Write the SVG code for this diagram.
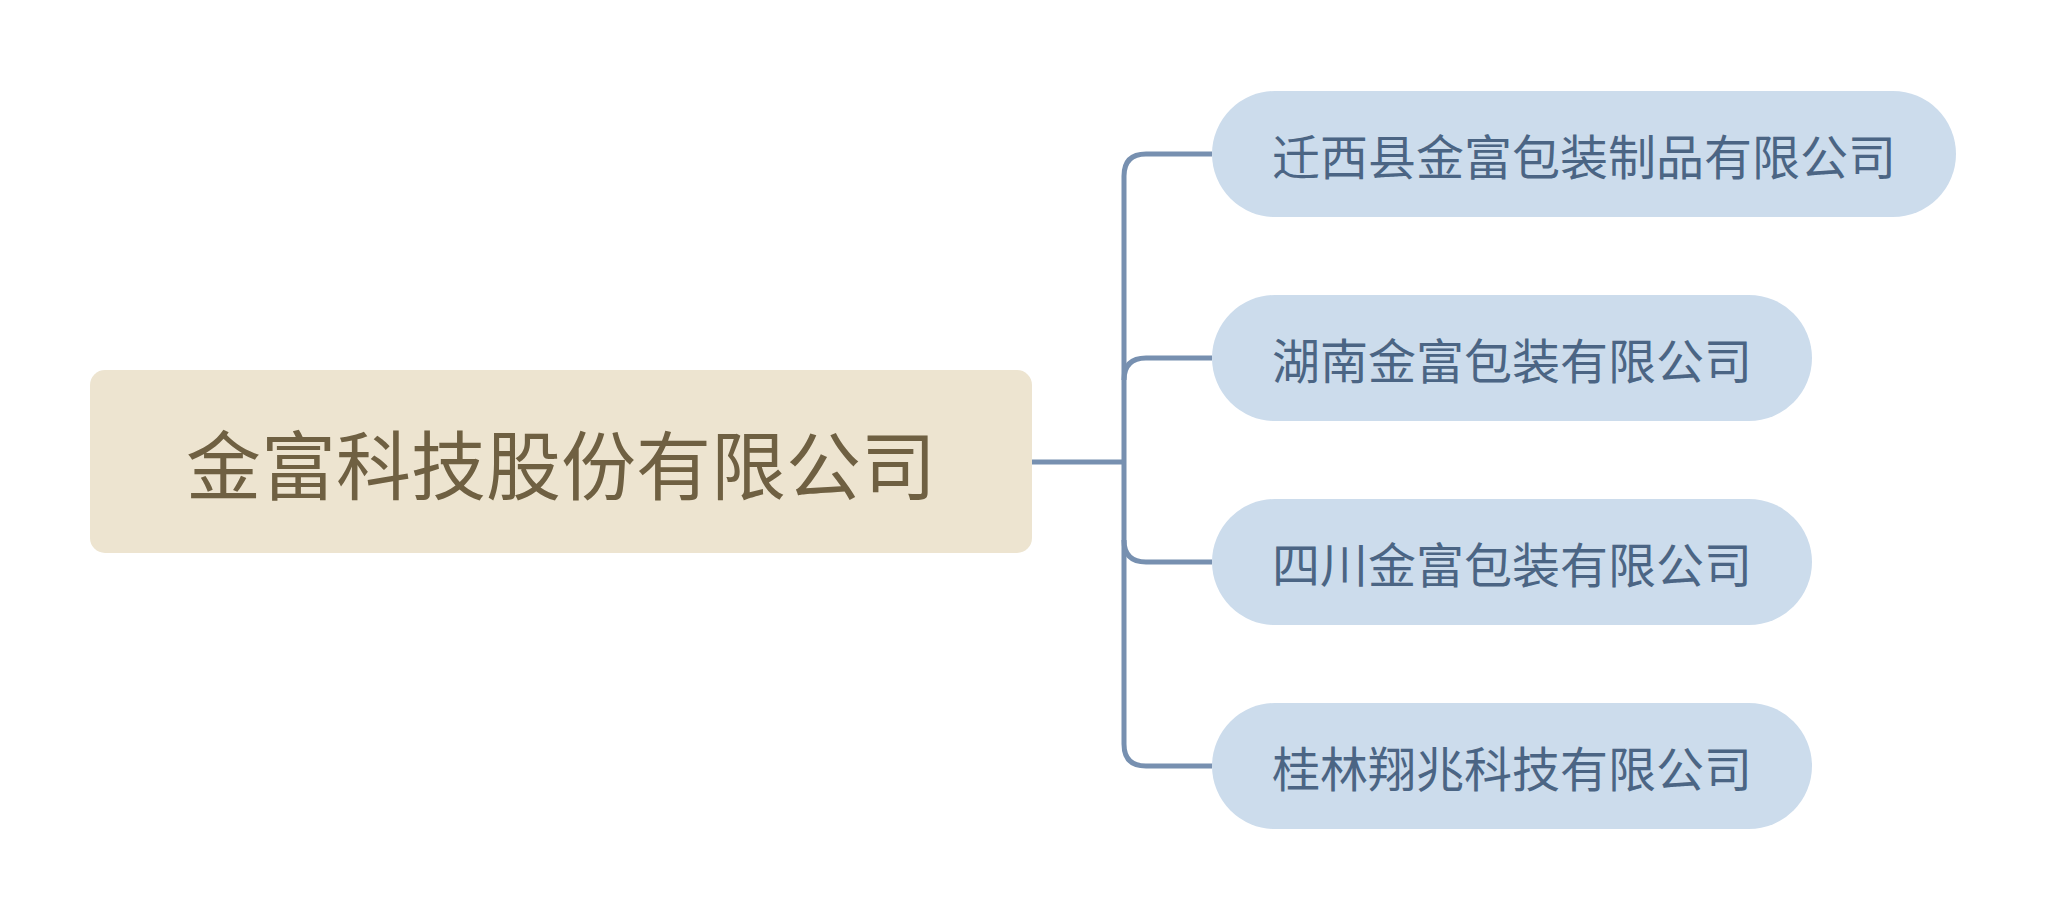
<svg xmlns="http://www.w3.org/2000/svg" width="2046" height="918" viewBox="0 0 2046 918">
<style>
.conn{fill:none;stroke:#7790b0;stroke-width:5}
.child{fill:#ccdcec}
.ctext{font-family:"Liberation Sans","Noto Sans CJK SC",sans-serif;font-size:48px;fill:#4b6584}
.rtext{font-family:"Liberation Sans","Noto Sans CJK SC",sans-serif;font-size:75px;fill:#6f6042}
</style>
<rect width="2046" height="918" fill="#ffffff"/>
<g id="connectors">
<path class="conn" d="M1032 462 H1124"/>
<path class="conn" d="M1212 154 H1146 Q1124 154 1124 176 V744 Q1124 766 1146 766 H1212"/>
<path class="conn" d="M1212 358 H1146 Q1124 358 1124 380"/>
<path class="conn" d="M1124 540 Q1124 562 1146 562 H1212"/>
</g>
<g id="root">
<rect x="90" y="370" width="942" height="183" rx="15" fill="#ede4d0"/>
<text class="rtext" x="561" y="468" text-anchor="middle" dominant-baseline="central">金富科技股份有限公司</text>
</g>
<g id="n1">
<rect class="child" x="1212" y="91" width="744" height="126" rx="63"/>
<text class="ctext" x="1272" y="158" dominant-baseline="central">迁西县金富包装制品有限公司</text>
</g>
<g id="n2">
<rect class="child" x="1212" y="295" width="600" height="126" rx="63"/>
<text class="ctext" x="1272" y="362" dominant-baseline="central">湖南金富包装有限公司</text>
</g>
<g id="n3">
<rect class="child" x="1212" y="499" width="600" height="126" rx="63"/>
<text class="ctext" x="1272" y="566" dominant-baseline="central">四川金富包装有限公司</text>
</g>
<g id="n4">
<rect class="child" x="1212" y="703" width="600" height="126" rx="63"/>
<text class="ctext" x="1272" y="770" dominant-baseline="central">桂林翔兆科技有限公司</text>
</g>
</svg>
